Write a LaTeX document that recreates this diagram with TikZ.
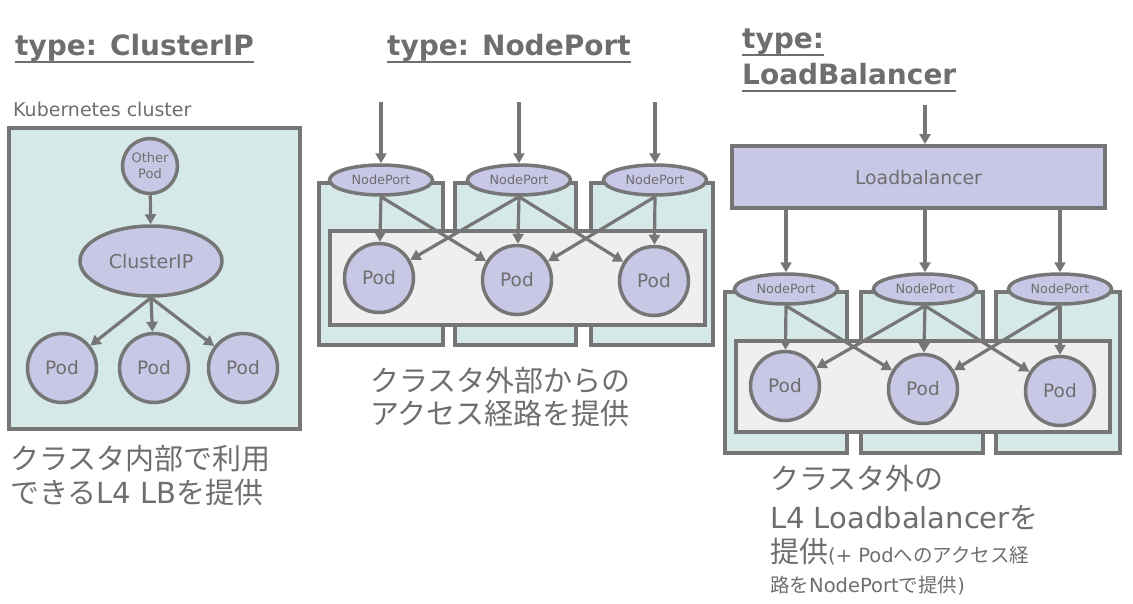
\documentclass[tikz,border=0pt]{standalone}
\usepackage{fontspec}
\setmainfont{DejaVu Sans}
\newfontfamily\jp{Noto Sans CJK JP}
\newfontfamily\lat{DejaVu Sans}
\usetikzlibrary{arrows.meta,shapes.geometric,fit}
\definecolor{lc}{HTML}{767676}
\definecolor{tc}{HTML}{6E6E6E}
\definecolor{tealbg}{HTML}{D6E9E9}
\definecolor{graybg}{HTML}{EFEFEF}
\definecolor{lav}{HTML}{C8C8E6}
\tikzset{
  title/.style={anchor=base west, inner sep=0, text=tc, font=\fontsize{28}{32}\selectfont\bfseries},
  ul/.style={draw=tc, line width=2.5pt},
  jtext/.style={anchor=base west, inner sep=0, text=tc, font=\jp\fontsize{29}{32}\selectfont},
  stext/.style={anchor=base west, inner sep=0, text=tc, font=\jp\fontsize{19.5}{22}\selectfont},
  nodebox/.style={draw=lc, line width=3.8pt, fill=tealbg, inner sep=0},
  podbox/.style={draw=lc, line width=3.8pt, fill=graybg, inner sep=0},
  pod/.style={circle, draw=lc, line width=3.5pt, fill=lav, minimum size=69pt, inner sep=0, text=tc, font=\fontsize{18.5}{20}\selectfont},
  np/.style={ellipse, draw=lc, line width=3.5pt, fill=lav, minimum width=103pt, minimum height=30pt, inner sep=0, text=tc, font=\fontsize{12.8}{14}\selectfont},
  arr/.style={draw=lc, line width=3.2pt, -{Triangle[length=10pt,width=11pt]}},
}
\begin{document}
\begin{tikzpicture}[x=1pt,y=-1pt]
\useasboundingbox (0,0) rectangle (1133,603);

% ---------- titles ----------
\node[title] (t1) at (15,55) {type: ClusterIP};
\draw[ul] ([yshift=-7pt]t1.base west) -- ([yshift=-7pt]t1.base east);
\node[title] (t2) at (387,55) {type: NodePort};
\draw[ul] ([yshift=-7pt]t2.base west) -- ([yshift=-7pt]t2.base east);
\node[title] (t3a) at (742,48) {type:};
\draw[ul] ([yshift=-7pt]t3a.base west) -- ([yshift=-7pt]t3a.base east);
\node[title] (t3b) at (742,84) {LoadBalancer};
\draw[ul] ([yshift=-7pt]t3b.base west) -- ([yshift=-7pt]t3b.base east);

% ---------- ClusterIP panel ----------
\node[anchor=base west, inner sep=0, text=tc, font=\fontsize{19}{20}\selectfont] (klabel) at (13,116) {Kubernetes cluster};
\node[nodebox, fit={(9,128) (300,429)}] (k8s) {};
\node[circle, draw=lc, line width=3.5pt, fill=lav, minimum size=55pt, inner sep=0, text=tc, align=center, font=\fontsize{13}{16}\selectfont] (op) at (150,166) {Other\\Pod};
\node[ellipse, draw=lc, line width=3.5pt, fill=lav, minimum width=142pt, minimum height=70pt, inner sep=0, text=tc, font=\fontsize{19}{20}\selectfont] (cip) at (151,261) {ClusterIP};
\node[pod] (cp1) at (62,368) {Pod};
\node[pod] (cp2) at (154,368) {Pod};
\node[pod] (cp3) at (243,368) {Pod};
\draw[arr] (op) -- (cip);
\draw[arr] (cip.south) -- (cp1);
\draw[arr] (cip.south) -- (cp2);
\draw[arr] (cip.south) -- (cp3);
\node[jtext] (j1a) at (10,469) {クラスタ内部で利用};
\node[jtext] (j1b) at (10,503) {できる{\lat L4 LB}を提供};

% ---------- NodePort panel ----------
\node[nodebox, fit={(319,183) (443,345)}] (mn1) {};
\node[nodebox, fit={(455,183) (576,345)}] (mn2) {};
\node[nodebox, fit={(591,183) (713,345)}] (mn3) {};
\node[podbox, fit={(330,231) (705,325)}] (mpods) {};
\node[np] (mnp1) at (381,180) {NodePort};
\node[np] (mnp2) at (519,180) {NodePort};
\node[np] (mnp3) at (655,180) {NodePort};
\node[pod] (mp1) at (379,278) {Pod};
\node[pod] (mp2) at (517,280) {Pod};
\node[pod] (mp3) at (654,281) {Pod};
\coordinate (min1) at (381,102);
\coordinate (min2) at (519,102);
\coordinate (min3) at (655,102);
\draw[arr] (min1) -- (mnp1);
\draw[arr] (min2) -- (mnp2);
\draw[arr] (min3) -- (mnp3);
\draw[arr] (mnp1.south) -- (mp1);
\draw[arr] (mnp1.south) -- (mp2);
\draw[arr] (mnp2.south) -- (mp1);
\draw[arr] (mnp2.south) -- (mp2);
\draw[arr] (mnp2.south) -- (mp3);
\draw[arr] (mnp3.south) -- (mp2);
\draw[arr] (mnp3.south) -- (mp3);
\node[jtext] (j2a) at (370,391) {クラスタ外部からの};
\node[jtext] (j2b) at (370,424) {アクセス経路を提供};

% ---------- LoadBalancer panel ----------
\node[draw=lc, line width=3.8pt, fill=lav, inner sep=0, fit={(732,146) (1105,208)}] (lb) {};
\node[text=tc, font=\fontsize{18.8}{20}\selectfont, inner sep=0] (lbl) at (lb.center) {Loadbalancer};
\coordinate (lin) at (925,105);
\draw[arr] (lin) -- (lb.north -| lin);
\node[nodebox, fit={(725,292) (847,453)}] (rn1) {};
\node[nodebox, fit={(861,292) (983,453)}] (rn2) {};
\node[nodebox, fit={(996,292) (1120,453)}] (rn3) {};
\node[podbox, fit={(736,341) (1110,432)}] (rpods) {};
\node[np] (rnp1) at (786,289) {NodePort};
\node[np] (rnp2) at (925,289) {NodePort};
\node[np] (rnp3) at (1060,289) {NodePort};
\node[pod] (rp1) at (785,386) {Pod};
\node[pod] (rp2) at (923,389) {Pod};
\node[pod] (rp3) at (1060,391) {Pod};
\draw[arr] (lb.south -| rnp1) -- (rnp1);
\draw[arr] (lb.south -| rnp2) -- (rnp2);
\draw[arr] (lb.south -| rnp3) -- (rnp3);
\draw[arr] (rnp1.south) -- (rp1);
\draw[arr] (rnp1.south) -- (rp2);
\draw[arr] (rnp2.south) -- (rp1);
\draw[arr] (rnp2.south) -- (rp2);
\draw[arr] (rnp2.south) -- (rp3);
\draw[arr] (rnp3.south) -- (rp2);
\draw[arr] (rnp3.south) -- (rp3);
\node[jtext] (j3a) at (770,489) {クラスタ外の};
\node[jtext] (j3b) at (770,528) {{\lat L4 Loadbalancer}を};
\node[jtext] (j3c) at (770,562) {提供{\fontsize{19.5}{22}\selectfont{\lat (+ Pod}へのアクセス経}};
\node[stext] (j3d) at (770,592) {路を{\lat NodePort}で提供{\lat )}};
\end{tikzpicture}
\end{document}
